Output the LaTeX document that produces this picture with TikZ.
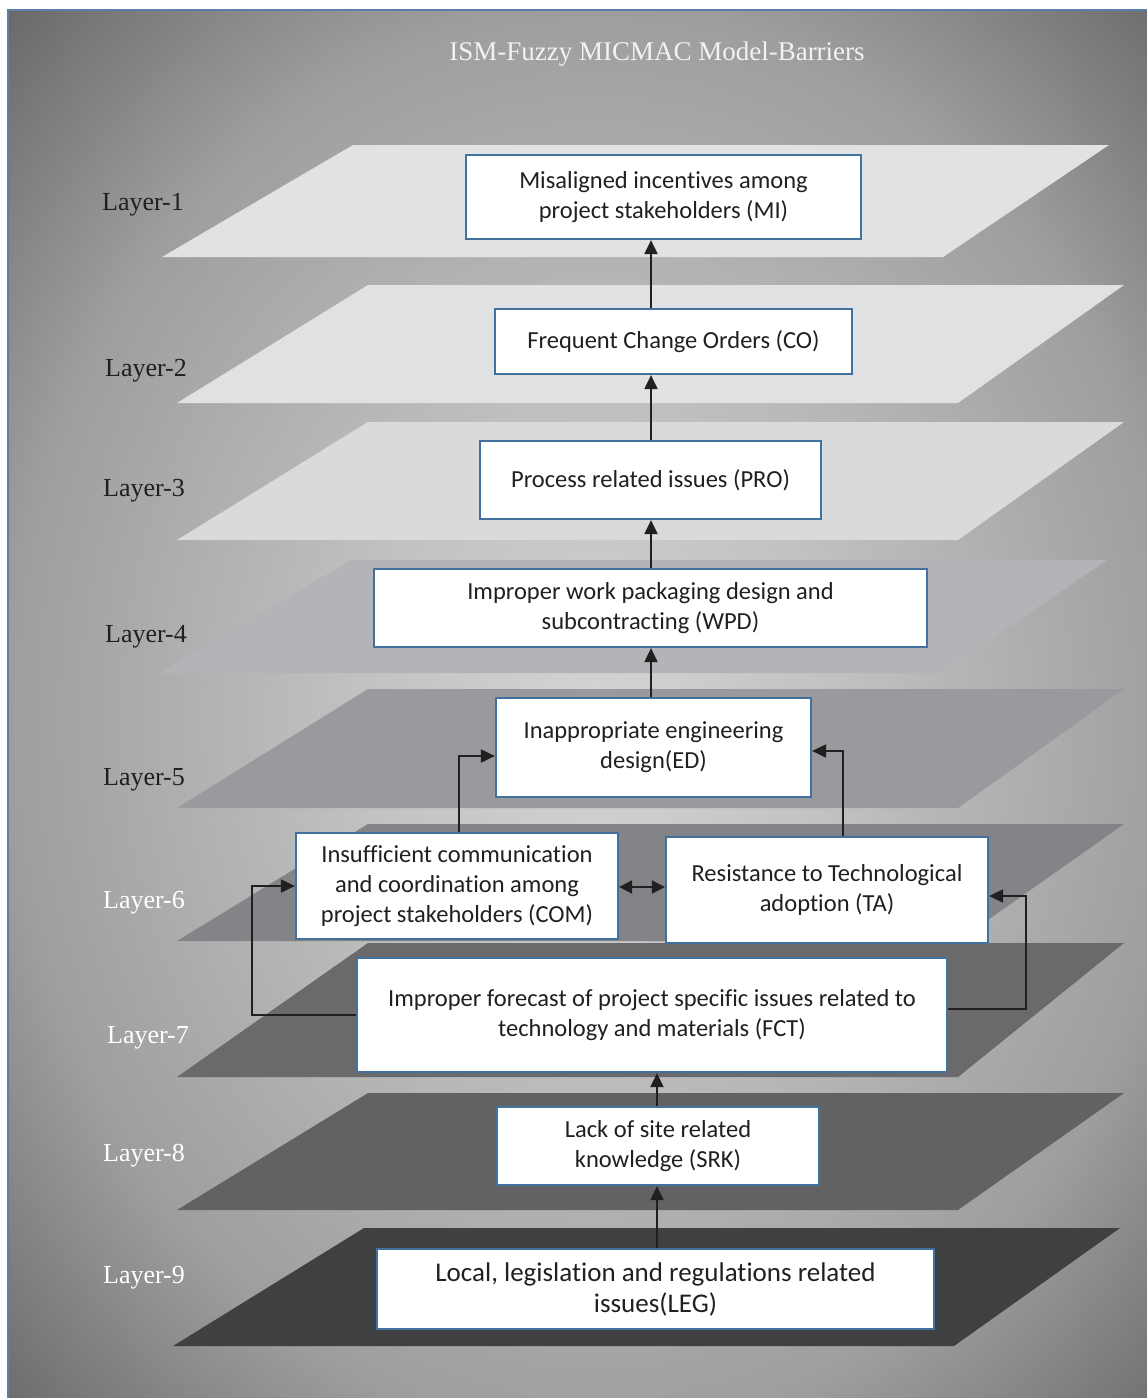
\documentclass[tikz,border=0pt]{standalone}
\usepackage{fontspec}
\setmainfont{Liberation Serif}
\newfontfamily\boxfont[Ligatures={NoCommon}]{Carlito}
\usetikzlibrary{arrows.meta,calc}
\definecolor{bgca}{HTML}{D4D4D4}
\definecolor{bgcb}{HTML}{C2C2C2}
\definecolor{bgcc}{HTML}{9E9E9E}
\definecolor{bgcd}{HTML}{666666}
\definecolor{framecol}{HTML}{5A80AA}
\definecolor{boxblue}{HTML}{41719C}
\definecolor{inkc}{HTML}{231F20}
\definecolor{titlecol}{HTML}{F2F2F2}
\definecolor{layA}{HTML}{E1E2E4}
\definecolor{layB}{HTML}{E0E1E3}
\definecolor{layC}{HTML}{D9DADC}
\definecolor{layD}{HTML}{B3B4B8}
\definecolor{layE}{HTML}{999A9E}
\definecolor{layF}{HTML}{838488}
\definecolor{layG}{HTML}{6A6A6C}
\definecolor{layH}{HTML}{626264}
\definecolor{layI}{HTML}{404042}
\pgfdeclareradialshading{bgshade}{\pgfpoint{0bp}{0bp}}{color(0bp)=(bgca); color(10bp)=(bgcb); color(25bp)=(bgcc); color(36bp)=(bgcd); color(50bp)=(bgcd)}
\tikzset{
  barrier/.style={draw=boxblue, line width=2.2pt, fill=white, align=center, inner sep=0pt,
    text=inkc, font=\boxfont\fontsize{24.5}{30}\selectfont},
  laylabel/.style={font=\fontsize{26}{30}\selectfont, inner sep=0pt},
  arr/.style={draw=inkc, line width=2pt, -{Triangle[length=14pt,width=13pt]}},
  dblarr/.style={draw=inkc, line width=2pt, {Triangle[length=13pt,width=13pt]}-{Triangle[length=13pt,width=13pt]}}
}
\begin{document}
\begin{tikzpicture}[x=1pt,y=-1pt]
\useasboundingbox (0,0) rectangle (1147,1398);
\clip (0,0) rectangle (1147,1398);
\fill[white] (0,0) rectangle (1147,1398);
\shade[shading=bgshade] (8,10) rectangle (1185,1430);
\draw[framecol, line width=2.2pt] (8,10) rectangle (1185,1430);

% layers
\fill[layA] (353,145) -- (1109,145) -- (943,257) -- (162,257) -- cycle;
\fill[layB] (368,285) -- (1124,285) -- (958,403) -- (177,403) -- cycle;
\fill[layC] (368,422) -- (1124,422) -- (958,540) -- (177,540) -- cycle;
\fill[layD] (351,560) -- (1107,560) -- (941,673) -- (160,673) -- cycle;
\fill[layE] (368,689) -- (1124,689) -- (958,808) -- (177,808) -- cycle;
\fill[layF] (368,824) -- (1124,824) -- (958,941) -- (177,941) -- cycle;
\fill[layG] (368,943) -- (1124,943) -- (958,1077) -- (177,1077) -- cycle;
\fill[layH] (368,1093) -- (1124,1093) -- (958,1210) -- (177,1210) -- cycle;
\fill[layI] (364,1228) -- (1120,1228) -- (954,1346) -- (173,1346) -- cycle;

% title and layer labels
\node[font=\fontsize{27}{30}\selectfont, text=titlecol, inner sep=0pt] (title) at (657,54) {ISM-Fuzzy MICMAC Model-Barriers};
\node[laylabel, text=inkc] (lab1) at (143,205) {Layer-1};
\node[laylabel, text=inkc] (lab2) at (146,371) {Layer-2};
\node[laylabel, text=inkc] (lab3) at (144,491) {Layer-3};
\node[laylabel, text=inkc] (lab4) at (146,637) {Layer-4};
\node[laylabel, text=inkc] (lab5) at (144,780) {Layer-5};
\node[laylabel, text=white] (lab6) at (144,903) {Layer-6};
\node[laylabel, text=white] (lab7) at (148,1038) {Layer-7};
\node[laylabel, text=white] (lab8) at (144,1156) {Layer-8};
\node[laylabel, text=white] (lab9) at (144,1278) {Layer-9};

% barrier boxes
\node[barrier, minimum width=395pt, minimum height=84pt] (MI) at (663.5,197) {Misaligned incentives among\\project stakeholders (MI)};
\node[barrier, minimum width=357pt, minimum height=65pt] (CO) at (673.5,341.5) {Frequent Change Orders (CO)};
\node[barrier, minimum width=341pt, minimum height=78pt] (PRO) at (650.5,480) {Process related issues (PRO)};
\node[barrier, minimum width=553pt, minimum height=78pt] (WPD) at (650.5,608) {Improper work packaging design and\\subcontracting (WPD)};
\node[barrier, minimum width=315pt, minimum height=99pt] (ED) at (653.5,747.5) {Inappropriate engineering\\design(ED)};
\node[barrier, minimum width=322pt, minimum height=106pt] (COM) at (457,886) {Insufficient communication\\and coordination among\\project stakeholders (COM)};
\node[barrier, minimum width=322pt, minimum height=106pt] (TA) at (827,890) {Resistance to Technological\\adoption (TA)};
\node[barrier, minimum width=590pt, minimum height=114pt] (FCT) at (652,1015) {Improper forecast of project specific issues related to\\technology and materials (FCT)};
\node[barrier, minimum width=322pt, minimum height=78pt] (SRK) at (658,1146) {Lack of site related\\knowledge (SRK)};
\node[barrier, minimum width=557pt, minimum height=80pt, font=\boxfont\fontsize{27}{31}\selectfont] (LEG) at (655.5,1289) {Local, legislation and regulations related\\issues(LEG)};

% helper coordinates
\coordinate (colA) at (651,0);
\coordinate (colB) at (657,0);
\coordinate (edL) at (459,756);
\coordinate (edR) at (843,751);
\coordinate (fctL) at (252,1015);
\coordinate (fctR) at (1026,1009);
\coordinate (taR) at (1026,896);

% connectors
\draw[arr] (CO.north -| colA) -- (MI.south -| colA);
\draw[arr] (PRO.north -| colA) -- (CO.south -| colA);
\draw[arr] (WPD.north -| colA) -- (PRO.south -| colA);
\draw[arr] (ED.north -| colA) -- (WPD.south -| colA);
\draw[arr] (COM.north -| edL) -- (edL) -- (ED.west |- edL);
\draw[arr] (TA.north -| edR) -- (edR) -- (ED.east |- edR);
\draw[dblarr] (COM.east |- 0,887) -- (TA.west |- 0,887);
\draw[arr] (FCT.west) -- (fctL) |- (COM.west);
\draw[arr] (FCT.east |- fctR) -- (fctR) -- (taR) -- (TA.east |- taR);
\draw[arr] (SRK.north -| colB) -- (FCT.south -| colB);
\draw[arr] (LEG.north -| colB) -- (SRK.south -| colB);
\end{tikzpicture}
\end{document}
